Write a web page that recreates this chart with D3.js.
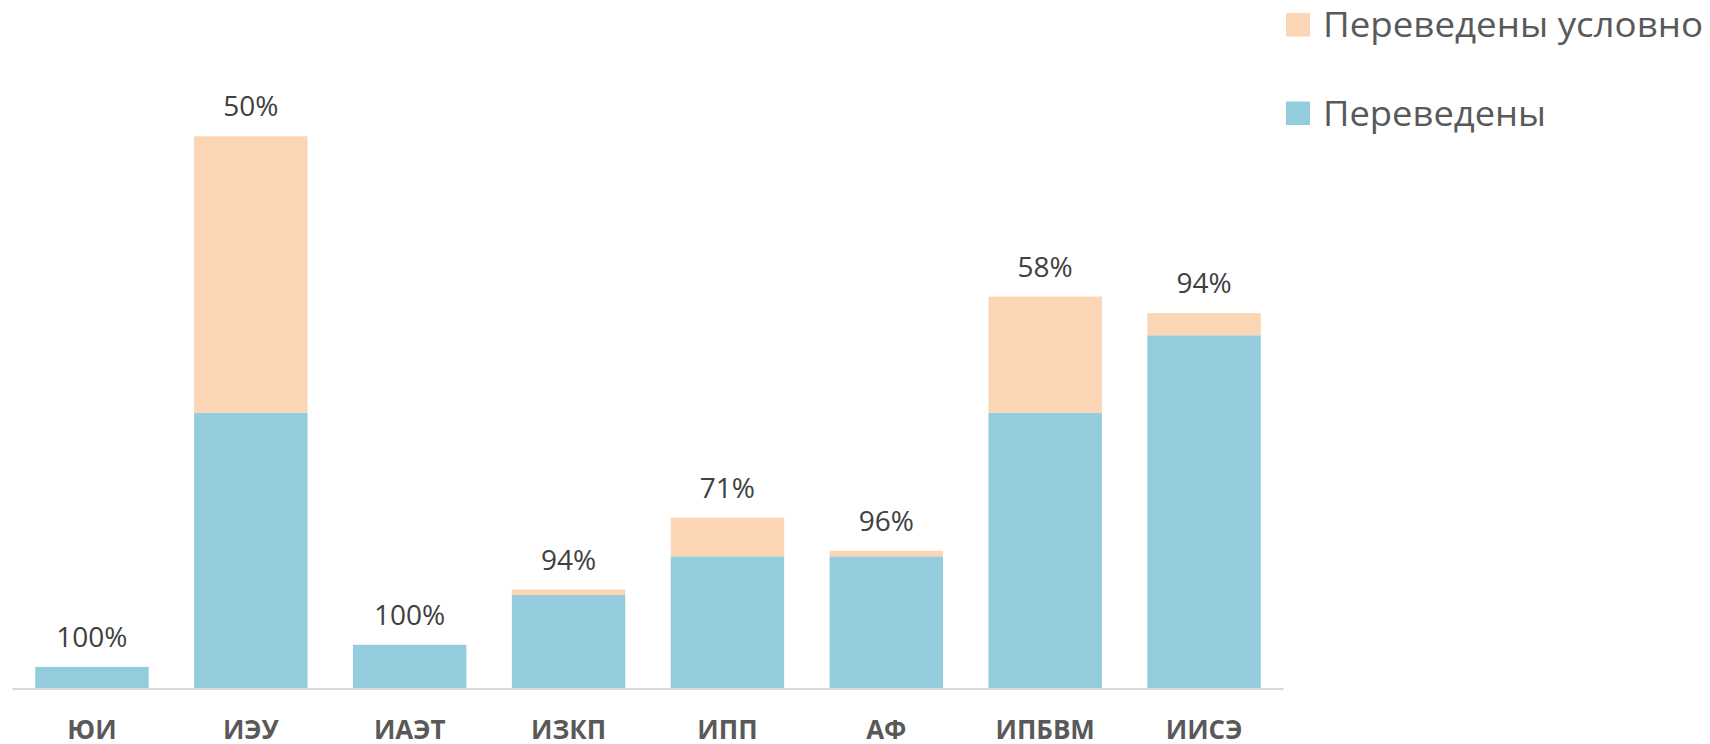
<!DOCTYPE html>
<html>
<head>
<meta charset="utf-8">
<script src="https://cdn.jsdelivr.net/npm/d3@7"></script>
<style>
  html, body { margin: 0; padding: 0; background: #fff; }
  svg { display: block; }
  text { font-family: "Open Sans", "Noto Sans", sans-serif; }
</style>
</head>
<body>
<svg id="chart" width="1710" height="744"></svg>
<script>
const categories = ["ЮИ", "ИЭУ", "ИАЭТ", "ИЗКП", "ИПП", "АФ", "ИПБВМ", "ИИСЭ"];
const transferred = [4, 50, 8, 17, 24, 24, 50, 64];          // Переведены
const conditional = [0, 50, 0, 1, 7, 1, 21, 4];              // Переведены условно
const percentLabels = ["100%", "50%", "100%", "94%", "71%", "96%", "58%", "94%"];
const seriesNames = ["Переведены условно", "Переведены"];
const colors = { transferred: "#93cddd", conditional: "#fcd5b5" };

const svg = d3.select("#chart");

const x = d3.scaleBand()
  .domain(categories)
  .range([12.5, 1283.5])
  .paddingInner(0.286)
  .paddingOuter(0.143);

const y = d3.scaleLinear()
  .domain([0, 100])
  .range([689, 136.3]);

const rows = categories.map((c, i) => ({
  cat: c, transferred: transferred[i], conditional: conditional[i], label: percentLabels[i]
}));

const stack = d3.stack().keys(["transferred", "conditional"]);
const series = stack(rows);

svg.append("g").selectAll("g")
  .data(series)
  .join("g")
  .attr("fill", d => colors[d.key])
  .selectAll("rect")
  .data(d => d.filter(p => p[1] - p[0] > 0))
  .join("rect")
  .attr("x", d => x(d.data.cat))
  .attr("width", x.bandwidth())
  .attr("y", d => y(d[1]))
  .attr("height", d => y(d[0]) - y(d[1]));

// axis baseline
const xAxis = d3.axisBottom(x).tickSize(0).tickPadding(0);
const gx = svg.append("g").attr("transform", `translate(0,${y(0)})`).call(xAxis);
gx.select(".domain").attr("stroke", "#d9d9d9").attr("stroke-width", 2)
  .attr("d", `M12.5,0H1283.5`);
gx.selectAll(".tick text")
  .attr("y", 50)
  .attr("dy", 0)
  .attr("fill", "#595959")
  .style("font-family", "'Open Sans', sans-serif")
  .style("font-weight", "700")
  .style("font-size", "26px");

// percent labels
svg.append("g").selectAll("text")
  .data(rows)
  .join("text")
  .attr("x", d => x(d.cat) + x.bandwidth() / 2)
  .attr("y", d => y(d.transferred + d.conditional) - 20)
  .attr("text-anchor", "middle")
  .attr("fill", "#404040")
  .style("font-size", "28px")
  .text(d => d.label);

// legend
const legend = svg.append("g");
const legendColors = [colors.conditional, colors.transferred];
const legendWidths = [380, 223];
seriesNames.forEach((name, i) => {
  const gy = 13 + i * 88.5;
  legend.append("rect")
    .attr("x", 1286).attr("y", gy)
    .attr("width", 24).attr("height", 23.5)
    .attr("fill", legendColors[i]);
  legend.append("text")
    .attr("x", 1323).attr("y", gy + 24)
    .attr("fill", "#595959")
    .attr("textLength", legendWidths[i])
    .attr("lengthAdjust", "spacingAndGlyphs")
    .style("font-size", "34px")
    .text(name);
});
</script>
</body>
</html>
